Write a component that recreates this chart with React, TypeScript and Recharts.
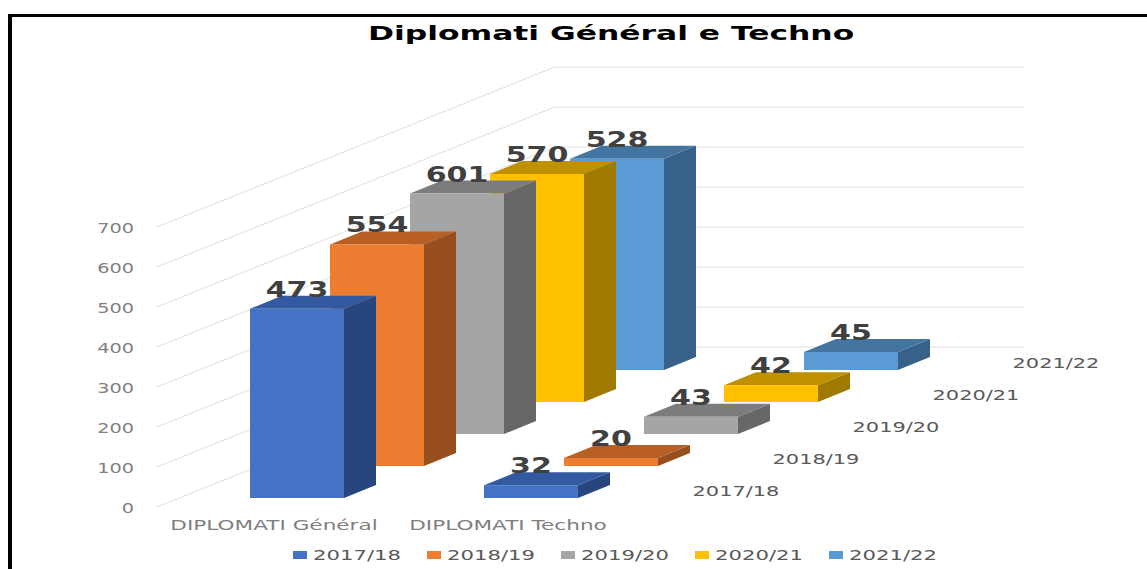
import { ComposedChart, Bar, Line, XAxis, YAxis, LabelList, Legend } from 'recharts';

const categories = ['DIPLOMATI Général', 'DIPLOMATI Techno'];
const seasons = ['2017/18', '2018/19', '2019/20', '2020/21', '2021/22'];
const values2017 = [473, 32];
const values2018 = [554, 20];
const values2019 = [601, 43];
const values2020 = [570, 42];
const values2021 = [528, 45];
const seriesValues = [values2017, values2018, values2019, values2020, values2021];
const yTicks = [0, 100, 200, 300, 400, 500, 600, 700];

const fronts = ['#4472C4', '#ED7D31', '#A5A5A5', '#FFC000', '#5B9BD5'];
const tops = ['#335AA0', '#B85F25', '#7C7C7C', '#BF9000', '#4475A0'];
const sides = ['#28467E', '#974F1D', '#676767', '#A07A00', '#38618A'];

const data = categories.map((name, i) => {
    const row: any = { name };
    seasons.forEach((s, k) => { row[s] = seriesValues[k][i]; });
    return row;
});

const FONT = '"DejaVu Sans", sans-serif';
const DEPTH_X = 32;
const DEPTH_Y = 13;
const STEP_X = 80;
const STEP_Y = 32;
const PLOT_W = 867;
const WALL_X = 398;
const WALL_RISE = 400; // the back wall sits this many units higher than the front edge

function Stretched({ x, y, size, weight, fill, sx, anchor, children }: any) {
    return (
        <text transform={`translate(${x} ${y}) scale(${sx} 1)`} textAnchor={anchor} fontSize={size} fontWeight={weight} fill={fill} fontFamily={FONT}>
            {children}
        </text>
    );
}

function box3d(k: number) {
    return (props: any) => {
        const { x, y, width, height } = props;
        const r = x + width;
        const b = y + height;
        return (
            <g>
                <polygon points={`${r},${y} ${r + DEPTH_X},${y - DEPTH_Y} ${r + DEPTH_X},${b - DEPTH_Y} ${r},${b}`} fill={sides[k]} />
                <polygon points={`${x},${y} ${x + DEPTH_X},${y - DEPTH_Y} ${r + DEPTH_X},${y - DEPTH_Y} ${r},${y}`} fill={tops[k]} />
                <rect x={x} y={y} width={width} height={height} fill={fronts[k]} />
            </g>
        );
    };
}

function valueLabel(props: any) {
    const box = props.viewBox ?? props;
    return (
        <Stretched x={box.x + box.width / 2} y={box.y - 12} size={21} weight={700} fill="#404040" sx={1.43} anchor="middle">
            {props.value}
        </Stretched>
    );
}

function seasonLabel(k: number) {
    return (props: any) => {
        if (props.index !== 1) return null;
        const box = props.viewBox ?? props;
        return (
            <Stretched x={box.x + 252} y={box.y + box.height - 2} size={13.5} fill="#595959" sx={1.55} anchor="middle">
                {seasons[k]}
            </Stretched>
        );
    };
}

function CategoryTick({ x, y, payload }: any) {
    return (
        <Stretched x={x - 23} y={y + 15} size={13.5} fill="#7F7F7F" sx={1.6} anchor="middle">
            {payload.value}
        </Stretched>
    );
}

function ValueTick({ y, payload }: any) {
    return (
        <Stretched x={134} y={y + 6} size={13.5} fill="#7F7F7F" sx={1.43} anchor="end">
            {payload.value}
        </Stretched>
    );
}

function SeasonLegend() {
    return (
        <div style={{ display: 'flex', paddingLeft: 206, fontFamily: FONT, fontSize: 13.5, color: '#595959' }}>
            {seasons.map((s, k) => (
                <div key={s} style={{ display: 'flex', alignItems: 'center', marginLeft: k === 0 ? 0 : 27 }}>
                    <span style={{ width: 14, height: 8, background: fronts[k], marginRight: 6 }} />
                    <span style={{ display: 'inline-block', width: 87, transform: 'scaleX(1.57)', transformOrigin: 'left center', whiteSpace: 'nowrap' }}>{s}</span>
                </div>
            ))}
        </div>
    );
}

export default function App() {
    // drawn back to front so the nearer boxes cover the ones behind
    const order = [4, 3, 2, 1, 0];
    return (
        <div style={{ position: 'absolute', left: 0, top: 0, width: 1147, height: 569, background: '#fff', overflow: 'hidden' }}>
            <div style={{ position: 'absolute', left: 8, top: 14, width: 1139, height: 3, background: '#000' }} />
            <div style={{ position: 'absolute', left: 8, top: 14, width: 4, height: 555, background: '#000' }} />
            <div style={{ position: 'absolute', left: 368, top: 22, fontFamily: FONT, fontWeight: 700, fontSize: 19, color: '#000', whiteSpace: 'nowrap', transform: 'scaleX(1.65)', transformOrigin: 'left top' }}>
                Diplomati Général e Techno
            </div>
            <ComposedChart width={1147} height={569} data={data} margin={{ top: 67, right: 123, bottom: 0, left: 87 }} style={{ position: 'absolute', left: 0, top: 0 }}>
                {order.map(k => (
                    <XAxis key={k} xAxisId={k} dataKey="name" hide={k !== 0} axisLine={false} tickLine={false} height={k === 0 ? 40 : 0}
                        padding={{ left: 23 + STEP_X * k, right: 376 - STEP_X * k }} tick={k === 0 ? <CategoryTick /> : false} interval={0} />
                ))}
                <XAxis xAxisId="grid" dataKey="x" type="number" domain={[0, PLOT_W]} hide />
                <YAxis yAxisId="main" domain={[0, 1100]} ticks={yTicks} width={70} axisLine={false} tickLine={false} tick={<ValueTick />} tickMargin={0} interval={0} />
                {order.map(k => (
                    <YAxis key={k} yAxisId={k} hide domain={[0, 700]} padding={{ top: 151 - STEP_Y * k, bottom: 9 + STEP_Y * k }} />
                ))}
                {yTicks.map(v => (
                    <Line key={v} zIndex={100} xAxisId="grid" yAxisId="main" dataKey="y" stroke="#DEDEDE" strokeWidth={1} dot={false} activeDot={false} legendType="none" isAnimationActive={false}
                        data={[{ x: 0, y: v }, { x: WALL_X, y: v + WALL_RISE }, { x: PLOT_W, y: v + WALL_RISE }]} />
                ))}
                {order.map(k => (
                    <Bar key={k} xAxisId={k} yAxisId={k} dataKey={seasons[k]} barSize={94} isAnimationActive={false} fill={fronts[k]} shape={box3d(k)}>
                        <LabelList dataKey={seasons[k]} content={valueLabel} />
                        <LabelList dataKey={seasons[k]} content={seasonLabel(k)} />
                    </Bar>
                ))}
                <Legend verticalAlign="bottom" height={22} content={<SeasonLegend />} />
            </ComposedChart>
        </div>
    );
}
